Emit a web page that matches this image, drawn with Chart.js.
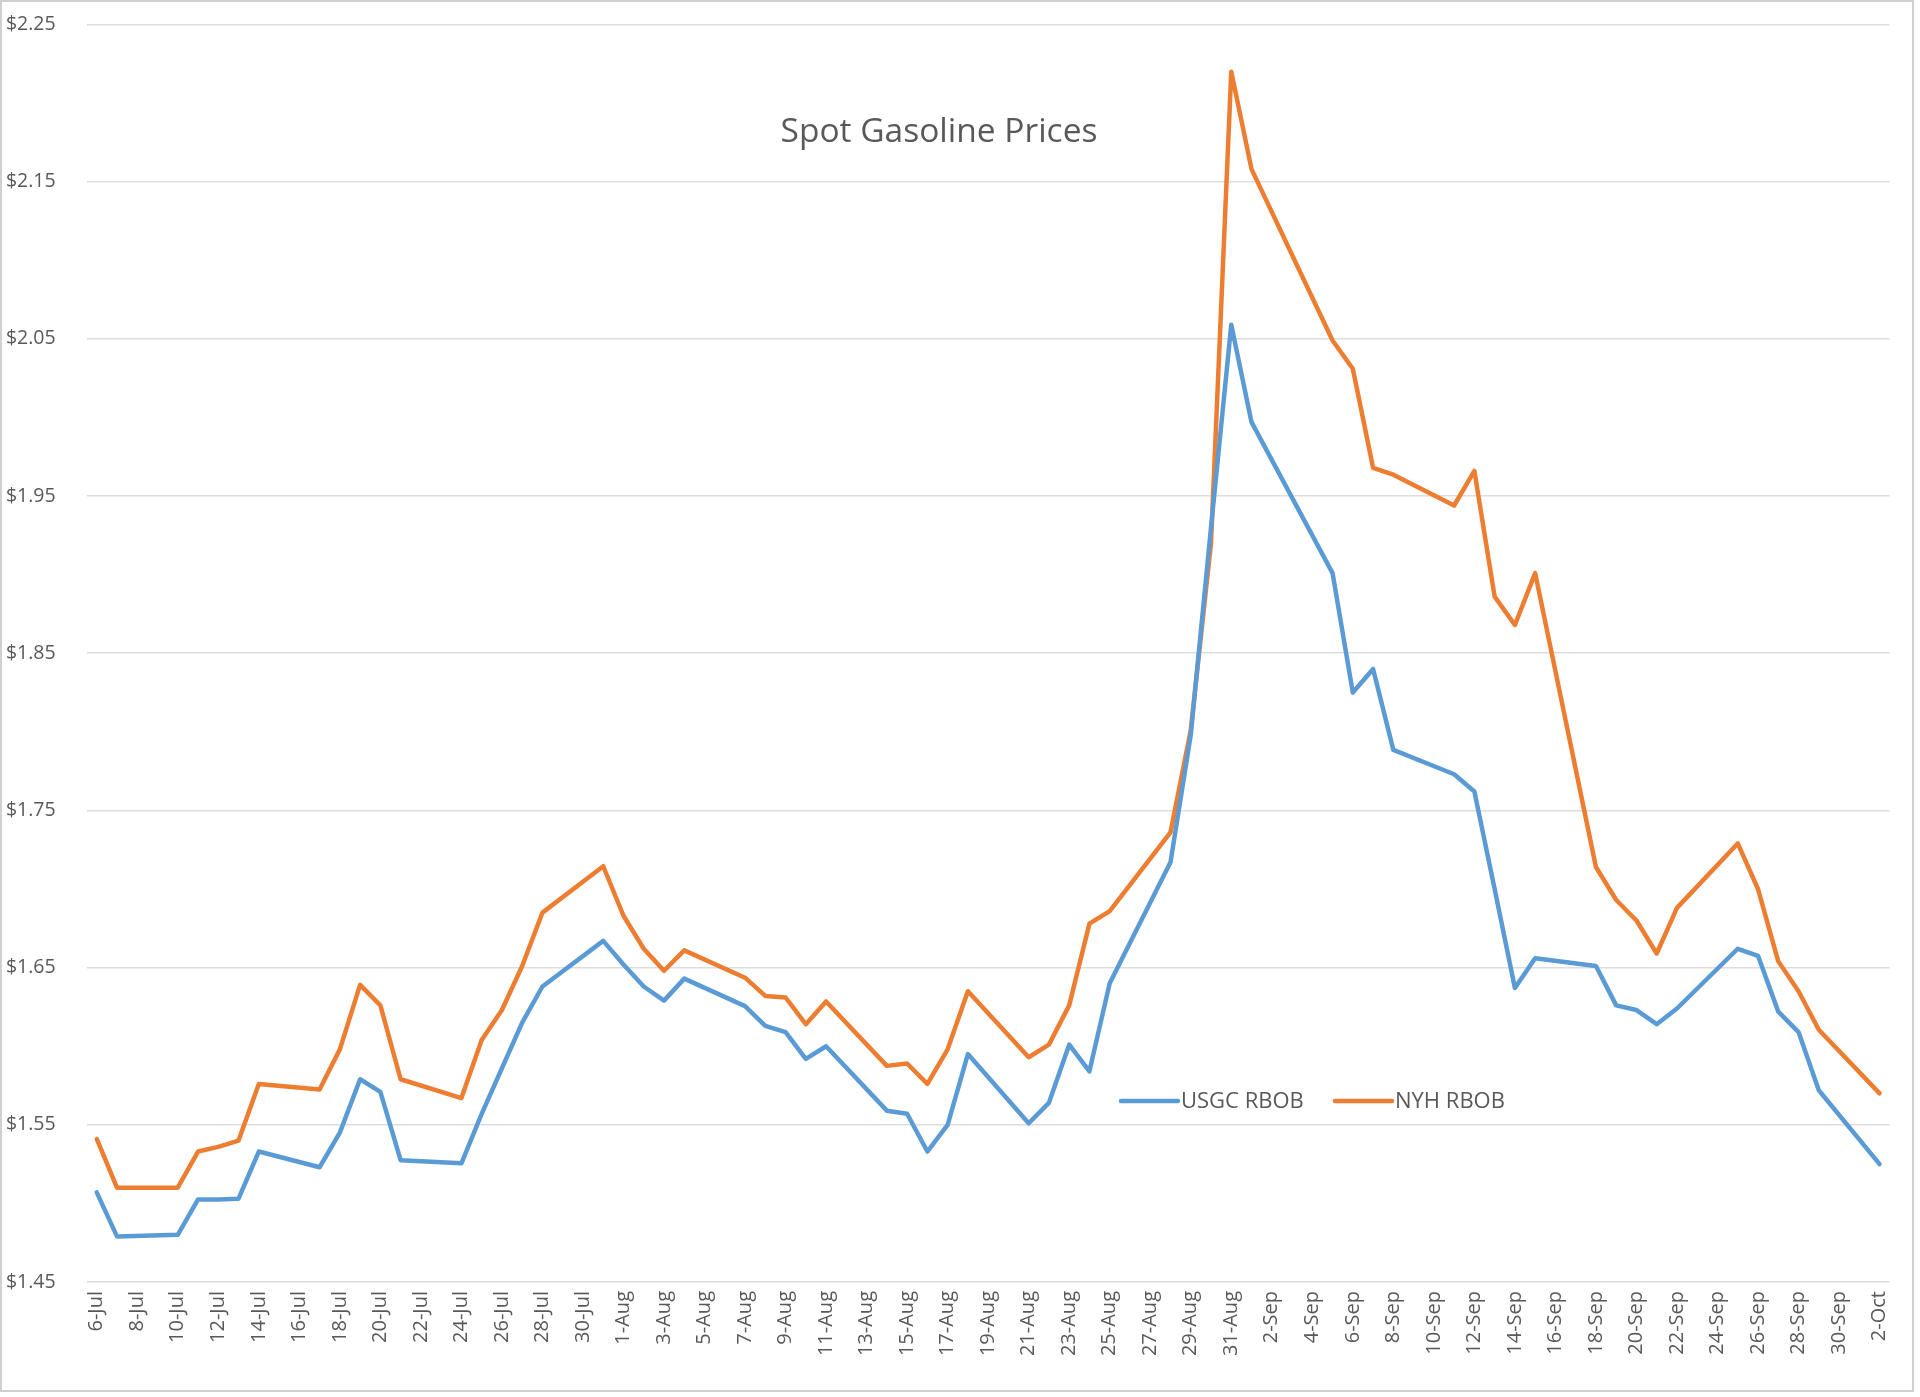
<!DOCTYPE html>
<html>
<head>
<meta charset="utf-8">
<script src="https://cdn.jsdelivr.net/npm/chart.js@4.4.1/dist/chart.umd.min.js"></script>
<style>
  html, body { margin: 0; padding: 0; background: #ffffff; }
  #wrap { position: relative; width: 1920px; height: 1397px; }
</style>
</head>
<body>
<div id="wrap"><canvas id="c"></canvas></div>
<script>
// ---- data ----
const categories = [
  "6-Jul","7-Jul","8-Jul","9-Jul","10-Jul","11-Jul","12-Jul","13-Jul","14-Jul","15-Jul",
  "16-Jul","17-Jul","18-Jul","19-Jul","20-Jul","21-Jul","22-Jul","23-Jul","24-Jul","25-Jul",
  "26-Jul","27-Jul","28-Jul","29-Jul","30-Jul","31-Jul","1-Aug","2-Aug","3-Aug","4-Aug",
  "5-Aug","6-Aug","7-Aug","8-Aug","9-Aug","10-Aug","11-Aug","12-Aug","13-Aug","14-Aug",
  "15-Aug","16-Aug","17-Aug","18-Aug","19-Aug","20-Aug","21-Aug","22-Aug","23-Aug","24-Aug",
  "25-Aug","26-Aug","27-Aug","28-Aug","29-Aug","30-Aug","31-Aug","1-Sep","2-Sep","3-Sep",
  "4-Sep","5-Sep","6-Sep","7-Sep","8-Sep","9-Sep","10-Sep","11-Sep","12-Sep","13-Sep",
  "14-Sep","15-Sep","16-Sep","17-Sep","18-Sep","19-Sep","20-Sep","21-Sep","22-Sep","23-Sep",
  "24-Sep","25-Sep","26-Sep","27-Sep","28-Sep","29-Sep","30-Sep","1-Oct","2-Oct"
];

// null = no price that day (weekend / holiday); the line is drawn across the gap
const usgcRbob = [
  1.507, 1.479, null, null, 1.480, 1.5025, 1.5025, 1.503, 1.533, null,
  null, 1.523, 1.545, 1.579, 1.571, 1.5275, null, null, 1.5255, 1.557,
  1.586, 1.615, 1.638, null, null, 1.667, 1.652, 1.638, 1.629, 1.643,
  null, null, 1.6255, 1.613, 1.609, 1.592, 1.600, null, null, 1.559,
  1.557, 1.533, 1.550, 1.595, null, null, 1.551, 1.564, 1.601, 1.584,
  1.640, null, null, 1.717, 1.798, 1.930, 2.059, 1.997, null, null,
  null, 1.901, 1.825, 1.840, 1.7885, null, null, 1.773, 1.762, 1.700,
  1.637, 1.656, null, null, 1.651, 1.626, 1.623, 1.614, 1.624, null,
  null, 1.662, 1.6575, 1.622, 1.609, 1.572, null, null, 1.525
];

const nyhRbob = [
  1.541, 1.510, null, null, 1.510, 1.533, 1.536, 1.540, 1.576, null,
  null, 1.5725, 1.598, 1.639, 1.626, 1.579, null, null, 1.567, 1.604,
  1.623, 1.651, 1.685, null, null, 1.7145, 1.683, 1.662, 1.648, 1.661,
  null, null, 1.6436, 1.632, 1.631, 1.614, 1.6285, null, null, 1.5875,
  1.589, 1.576, 1.598, 1.635, null, null, 1.593, 1.601, 1.626, 1.678,
  1.686, null, null, 1.736, 1.801, 1.920, 2.220, 2.158, null, null,
  null, 2.049, 2.031, 1.968, 1.9636, null, null, 1.944, 1.966, 1.886,
  1.868, 1.901, null, null, 1.714, 1.693, 1.680, 1.659, 1.688, null,
  null, 1.729, 1.700, 1.654, 1.635, 1.6105, null, null, 1.570
];

const seriesNames = ["USGC RBOB", "NYH RBOB"];
const chartTitle = "Spot Gasoline Prices";
const yMin = 1.45, yMax = 2.25, yStep = 0.1;

// ---- styling ----
const FONT = "'Open Sans', 'Noto Sans', sans-serif";
const TEXT = "#595959";
const BLUE = "#5B9BD5";
const ORANGE = "#ED7D31";

const overlayPlugin = {
  id: "overlay",
  afterDraw(chart) {
    const ctx = chart.ctx;
    ctx.save();
    // title inside the plot
    ctx.fillStyle = TEXT;
    ctx.font = "33.5px " + FONT;
    ctx.textAlign = "center";
    ctx.textBaseline = "middle";
    ctx.fillText(chartTitle, 939, 132);
    // legend inside the plot
    const items = chart.data.datasets;
    const pos = [1121, 1335];
    ctx.font = "22px " + FONT;
    ctx.textAlign = "left";
    items.forEach((ds, i) => {
      const x = pos[i], y = 1101;
      ctx.strokeStyle = ds.borderColor;
      ctx.lineWidth = 4.5;
      ctx.lineCap = "round";
      ctx.beginPath();
      ctx.moveTo(x, y);
      ctx.lineTo(x + 57, y);
      ctx.stroke();
      ctx.fillStyle = TEXT;
      ctx.fillText(ds.label, x + 60, y + 1);
    });
    // outer chart border
    ctx.strokeStyle = "#D0D0D0";
    ctx.lineWidth = 2;
    ctx.strokeRect(1, 1, 1912, 1390);
    ctx.restore();
  }
};

new Chart(document.getElementById("c"), {
  type: "line",
  data: {
    labels: categories,
    datasets: [
      { label: seriesNames[0], data: usgcRbob, borderColor: BLUE, backgroundColor: BLUE },
      { label: seriesNames[1], data: nyhRbob, borderColor: ORANGE, backgroundColor: ORANGE }
    ]
  },
  options: {
    responsive: true,
    maintainAspectRatio: false,
    animation: false,
    spanGaps: true,
    layout: { padding: { left: 0, top: 24.5, right: 30.3, bottom: 0 } },
    elements: {
      line: { borderWidth: 4.5, tension: 0, borderJoinStyle: "round", borderCapStyle: "round" },
      point: { radius: 0, hoverRadius: 0 }
    },
    plugins: {
      legend: { display: false },
      title: { display: false },
      tooltip: { enabled: false }
    },
    scales: {
      x: {
        type: "category",
        offset: true,
        grid: { display: false, drawTicks: false },
        border: { display: false },
        afterFit(scale) { scale.height = 115; },
        ticks: {
          autoSkip: false,
          maxRotation: 90,
          minRotation: 90,
          padding: 9,
          color: TEXT,
          font: { family: FONT, size: 20 },
          callback(value, index) { return index % 2 === 0 ? categories[index] : ""; }
        }
      },
      y: {
        min: yMin,
        max: yMax,
        grid: { color: "#DDDDDD", lineWidth: 1.5, drawTicks: false },
        border: { display: false },
        afterFit(scale) {
          scale.width = 86.6;
          scale.paddingTop = 0;
          scale.paddingBottom = 0;
        },
        ticks: {
          stepSize: yStep,
          padding: 31,
          color: TEXT,
          font: { family: FONT, size: 19.5 },
          callback(v) { return "$" + Number(v).toFixed(2); }
        }
      }
    }
  },
  plugins: [overlayPlugin]
});
</script>
</body>
</html>
